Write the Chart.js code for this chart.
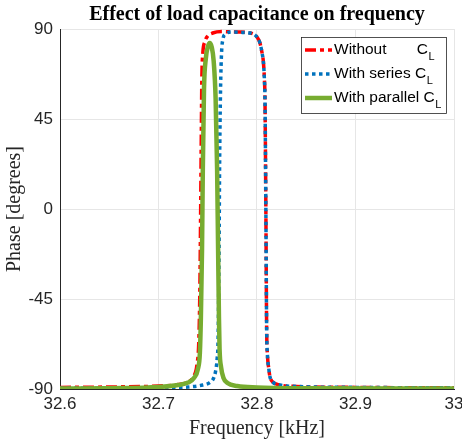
<!DOCTYPE html>
<html>
<head>
<meta charset="utf-8">
<script src="https://cdn.jsdelivr.net/npm/chart.js@4.4.1/dist/chart.umd.min.js"></script>
<style>
html,body{margin:0;padding:0;background:#fff;}
#wrap{position:relative;width:462px;height:441px;}
</style>
</head>
<body>
<div id="wrap"><canvas id="c" width="462" height="441"></canvas></div>
<script>
// ---- data ----
const freqWithout = [32.600,32.650,32.700,32.720,32.730,32.736,32.739,32.741,32.742,32.7428,32.7435,32.744,32.745,32.747,32.750,32.755,32.765,32.780,32.793,32.800,32.803,32.8055,32.8064,32.8075,32.8081,32.809,32.8098,32.8105,32.812,32.8132,32.816,32.8234,32.840,32.900,33.000];
const phaseWithout = [-89.2,-89.0,-88.5,-87.8,-86.5,-83.5,-78,-65,-40,0,40,65,78,83.5,86.5,88,88.7,88.5,88,86,83,77,74,65,55,0,-60,-72,-80,-84,-86.5,-88,-88.7,-89.2,-89.4];

const freqSeries = [32.600,32.700,32.730,32.745,32.752,32.756,32.758,32.7595,32.7605,32.7615,32.762,32.763,32.764,32.7655,32.768,32.775,32.785,32.793,32.800,32.803,32.8055,32.8064,32.8075,32.8081,32.809,32.8098,32.8105,32.812,32.8132,32.816,32.8234,32.840,32.900,33.000];
const phaseSeries = [-89.6,-89.4,-89.0,-88.0,-86.8,-84.5,-81,-75,-65,-20,20,60,78,85,87.5,88.5,88.3,88,86,83,77,74,65,55,0,-60,-72,-80,-84,-86.5,-88,-88.7,-89.2,-89.4];

const freqParallel = [32.600,32.650,32.700,32.720,32.730,32.736,32.740,32.742,32.743,32.7442,32.745,32.7462,32.748,32.750,32.752,32.754,32.756,32.758,32.7595,32.7605,32.7614,32.762,32.7635,32.766,32.770,32.780,32.800,32.850,33.000];
const phaseParallel = [-89.8,-89.6,-89.0,-88.0,-86.8,-84.5,-80,-72,-55,-20,20,60,75,81,83,81,74,55,20,-20,-55,-70,-79,-84.5,-87,-88.5,-89.2,-89.6,-89.8];

const xTicks = [32.6,32.7,32.8,32.9,33];
const yTicks = [-90,-45,0,45,90];
const legendMain = ['Without       C','With series C','With parallel C'];
const legendSub = ['L','L','L'];

const titleText = 'Effect of load capacitance on frequency';
const xTitle = 'Frequency [kHz]';
const yTitle = 'Phase [degrees]';

function pts(xs, ys){ return xs.map((x,i)=>({x:x,y:ys[i]})); }

const colors = ['#ff0000','#0072bd','#77ac30'];
const dashes = [[11,4,4,4],[3.5,3.5],[]];
const widths = [3.5,3.5,4.5];

const legendPlugin = {
  id:'subLegend',
  afterDatasetsDraw(chart){
    const ctx = chart.ctx;
    const bx = 301, by = 37, bw = 145, bh = 76;
    ctx.save();
    ctx.fillStyle = '#fff';
    ctx.fillRect(bx,by,bw,bh);
    ctx.strokeStyle = '#262626';
    ctx.lineWidth = 0.8;
    ctx.strokeRect(bx+0.5,by+0.5,bw,bh);
    const rows = [50,74,98];
    for(let i=0;i<3;i++){
      const y = rows[i];
      ctx.beginPath();
      ctx.setLineDash(dashes[i]);
      ctx.strokeStyle = colors[i];
      ctx.lineWidth = widths[i];
      ctx.moveTo(305,y); ctx.lineTo(332,y);
      ctx.stroke();
      ctx.setLineDash([]);
      ctx.fillStyle = '#000';
      ctx.font = '15.5px "Liberation Sans", Arial, sans-serif';
      ctx.textBaseline = 'middle';
      ctx.textAlign = 'left';
      ctx.fillText(legendMain[i], 334, y);
      const w = ctx.measureText(legendMain[i]).width;
      ctx.font = '11px "Liberation Sans", Arial, sans-serif';
      ctx.fillText(legendSub[i], 334 + w + 0.5, y + 7);
    }
    ctx.restore();
  }
};

new Chart(document.getElementById('c'), {
  type:'line',
  data:{
    datasets:[
      {label:'Without C_L', data:pts(freqWithout,phaseWithout), borderColor:colors[0], borderWidth:widths[0], borderDash:dashes[0], pointRadius:0, fill:false, order:3, cubicInterpolationMode:'monotone'},
      {label:'With series C_L', data:pts(freqSeries,phaseSeries), borderColor:colors[1], borderWidth:widths[1], borderDash:dashes[1], pointRadius:0, fill:false, order:2, cubicInterpolationMode:'monotone'},
      {label:'With parallel C_L', data:pts(freqParallel,phaseParallel), borderColor:colors[2], borderWidth:widths[2], pointRadius:0, fill:false, order:1, cubicInterpolationMode:'monotone'}
    ]
  },
  options:{
    responsive:false,
    animation:false,
    devicePixelRatio:1,
    layout:{padding:{left:0,right:8,top:0,bottom:0}},
    plugins:{
      legend:{display:false},
      tooltip:{enabled:false},
      title:{display:true, text:titleText, color:'#000', fullSize:false,
        font:{family:'"Liberation Serif", "Times New Roman", serif', size:20, weight:'bold', lineHeight:1.2},
        padding:{top:3,bottom:2}}
    },
    scales:{
      x:{type:'linear', min:32.6, max:33,
        afterBuildTicks(s){ s.ticks = xTicks.map(v=>({value:v})); },
        afterFit(s){ s.height = 52; s.paddingRight = 0; s.paddingLeft = 0; },
        ticks:{color:'#262626', padding:5, font:{family:'"Liberation Sans", Arial, sans-serif', size:17},
          callback:(v)=> String(Math.round(v*10)/10)},
        grid:{color:'#e6e6e6', drawTicks:false},
        border:{color:'#262626', width:1},
        title:{display:true, text:xTitle, color:'#262626', padding:{top:2,bottom:0},
          font:{family:'"Liberation Serif", "Times New Roman", serif', size:20}}
      },
      y:{type:'linear', min:-90, max:90,
        afterBuildTicks(s){ s.ticks = yTicks.map(v=>({value:v})); },
        afterFit(s){ s.width = 60; s.paddingTop = 0; s.paddingBottom = 0; },
        ticks:{color:'#262626', padding:7, font:{family:'"Liberation Sans", Arial, sans-serif', size:17}},
        grid:{color:'#e6e6e6', drawTicks:false},
        border:{color:'#262626', width:1},
        title:{display:true, text:yTitle, color:'#262626', padding:{top:3,bottom:0},
          font:{family:'"Liberation Serif", "Times New Roman", serif', size:20}}
      }
    }
  },
  plugins:[legendPlugin]
});
</script>
</body>
</html>
